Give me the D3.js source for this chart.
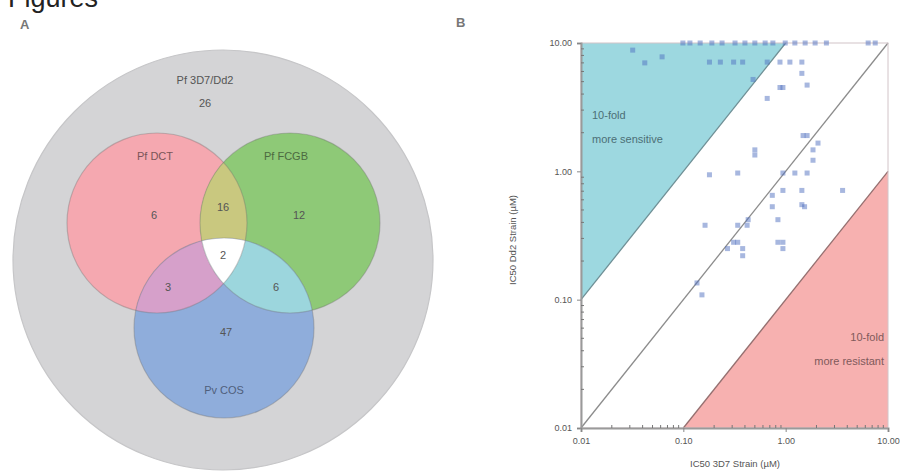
<!DOCTYPE html>
<html>
<head>
<meta charset="utf-8">
<script src="https://cdn.jsdelivr.net/npm/d3@7"></script>
<style>
  html, body { margin: 0; padding: 0; background: #fff; }
  svg { display: block; font-family: "Liberation Sans", Arial, sans-serif; }
</style>
</head>
<body>
<svg id="fig" width="905" height="474"></svg>
<script>
// ---- Panel A: set overlap counts ----
const outerSetName = ["Pf 3D7/Dd2", "26"];
const setNames = ["Pf DCT", "Pf FCGB", "Pv COS"];          // red, green, blue
const regionKeys = ["r", "g", "b", "rg", "rb", "gb", "rgb"];
const regionCounts = [6, 12, 47, 16, 3, 6, 2];

// ---- Panel B: compound potency in two strains ----
const ic50X = [0.032, 0.062, 0.042,
  0.099, 0.116, 0.146, 0.19, 0.239, 0.32, 0.40, 0.50, 0.63, 0.75, 0.99, 1.23, 1.55, 1.94, 2.5, 6.4, 7.5,
  0.18, 0.23, 0.31, 0.38, 0.66, 0.88, 1.1, 1.44,
  0.48, 1.44, 0.88, 0.94, 0.66, 1.62,
  1.48, 1.62, 2.07, 1.85, 1.85, 0.50, 0.50,
  0.18, 0.34, 0.94, 1.23, 1.62, 0.94, 1.44, 3.6,
  0.74, 0.74, 1.44, 1.53,
  0.163, 0.34, 0.42, 0.84, 0.43,
  0.31, 0.34, 0.84, 0.94, 0.27, 0.38, 0.38, 0.94,
  0.136, 0.152];
const ic50Y = [8.8, 7.8, 7.0,
  10, 10, 10, 10, 10, 10, 10, 10, 10, 10, 10, 10, 10, 10, 10, 10, 10,
  7.1, 7.1, 7.1, 7.1, 7.1, 7.1, 7.1, 7.1,
  5.2, 5.8, 4.5, 4.5, 3.7, 4.7,
  1.9, 1.9, 1.66, 1.47, 1.22, 1.47, 1.34,
  0.94, 0.97, 0.97, 0.97, 0.97, 0.71, 0.71, 0.71,
  0.65, 0.53, 0.55, 0.53,
  0.38, 0.38, 0.38, 0.42, 0.42,
  0.28, 0.28, 0.28, 0.28, 0.25, 0.25, 0.22, 0.25,
  0.135, 0.109];
const axisTicks = [0.01, 0.1, 1, 10];
const tickLabels = ["0.01", "0.10", "1.00", "10.00"];
const zoneLabels = [["10-fold", "more sensitive"], ["10-fold", "more resistant"]];
const xTitle = "IC50 3D7 Strain (µM)";
const yTitle = "IC50 Dd2 Strain (µM)";

const svg = d3.select("#fig");

// page heading, partly above the top edge
svg.append("text").attr("x", 8).attr("y", 7)
  .attr("font-size", 27).attr("fill", "#222").text("Figures");

// panel letters
svg.append("text").attr("x", 20).attr("y", 29).attr("font-size", 13)
  .attr("font-weight", "bold").attr("fill", "#777").text("A");
svg.append("text").attr("x", 456).attr("y", 27).attr("font-size", 13)
  .attr("font-weight", "bold").attr("fill", "#777").text("B");

// ================= Panel A: Venn diagram =================
const venn = svg.append("g");
const outer = { cx: 223, cy: 260, r: 210 };
const circles = [
  { cx: 157, cy: 223, r: 90, fill: "#f5a8b0" },
  { cx: 290, cy: 223, r: 90, fill: "#8ec977" },
  { cx: 224, cy: 328, r: 90, fill: "#8faddb" }
];
const pairFill = { rg: "#c9c87f", rb: "#d6a0ca", gb: "#9cd6dd" };

venn.append("circle").attr("cx", outer.cx).attr("cy", outer.cy).attr("r", outer.r)
  .attr("fill", "#d4d4d6").attr("stroke", "#c6c6c8").attr("stroke-width", 1.2);

const defs = svg.append("defs");
circles.forEach((c, i) => {
  defs.append("clipPath").attr("id", "clip" + i)
    .append("circle").attr("cx", c.cx).attr("cy", c.cy).attr("r", c.r);
});
// clip for the red∩green lens (used for the centre region)
defs.append("clipPath").attr("id", "clip01").attr("clip-path", "url(#clip0)")
  .append("circle").attr("cx", circles[1].cx).attr("cy", circles[1].cy).attr("r", circles[1].r);

circles.forEach(c => {
  venn.append("circle").attr("cx", c.cx).attr("cy", c.cy).attr("r", c.r).attr("fill", c.fill);
});
const pairs = [["rg", 0, 1], ["rb", 0, 2], ["gb", 1, 2]];
pairs.forEach(([k, a, b]) => {
  venn.append("g").attr("clip-path", `url(#clip${a})`)
    .append("circle").attr("cx", circles[b].cx).attr("cy", circles[b].cy).attr("r", circles[b].r)
    .attr("fill", pairFill[k]);
});
venn.append("g").attr("clip-path", "url(#clip01)")
  .append("circle").attr("cx", circles[2].cx).attr("cy", circles[2].cy).attr("r", circles[2].r)
  .attr("fill", "#ffffff");
circles.forEach(c => {
  venn.append("circle").attr("cx", c.cx).attr("cy", c.cy).attr("r", c.r)
    .attr("fill", "none").attr("stroke", "rgba(110,110,110,0.35)").attr("stroke-width", 1.2);
});

// set titles
venn.selectAll("text.outer").data(outerSetName).join("text")
  .attr("x", 205).attr("y", (d, i) => 84 + i * 23)
  .attr("text-anchor", "middle").attr("font-size", 11).attr("fill", "#555").text(d => d);
const titlePos = [[155, 160], [286, 160], [224, 394]];
const titleColor = ["#7a5558", "#4c6a40", "#4f5f7c"];
venn.selectAll("text.set").data(setNames).join("text")
  .attr("x", (d, i) => titlePos[i][0]).attr("y", (d, i) => titlePos[i][1])
  .attr("text-anchor", "middle").attr("font-size", 11)
  .attr("fill", (d, i) => titleColor[i]).text(d => d);

// region counts
const regionPos = { r: [154, 219], g: [299, 219], b: [226, 336], rg: [223, 211], rb: [168, 291], gb: [276, 291], rgb: [223, 259] };
venn.selectAll("text.count").data(regionKeys).join("text")
  .attr("x", k => regionPos[k][0]).attr("y", k => regionPos[k][1])
  .attr("text-anchor", "middle").attr("font-size", 11).attr("fill", "#555")
  .text((k, i) => regionCounts[i]);

// ================= Panel B: scatter on log axes =================
const x = d3.scaleLog().domain([0.01, 10]).range([581, 888]);
const y = d3.scaleLog().domain([0.01, 10]).range([428, 43]);
const plot = svg.append("g");

// shaded fold-change zones
const cyanZone = [[0.01, 0.1], [0.01, 10], [1, 10]];
const redZone = [[0.1, 0.01], [10, 0.01], [10, 1]];
const line = d3.line().x(d => x(d[0])).y(d => y(d[1]));
plot.append("path").attr("d", line(cyanZone) + "Z").attr("fill", "#9dd8e0");
plot.append("path").attr("d", line(redZone) + "Z").attr("fill", "#f7b1b0");
plot.append("path").attr("d", line([[0.01, 0.1], [1, 10]]))
  .attr("stroke", "#6f8f95").attr("stroke-width", 1.3).attr("fill", "none");
plot.append("path").attr("d", line([[0.1, 0.01], [10, 1]]))
  .attr("stroke", "#957070").attr("stroke-width", 1.3).attr("fill", "none");
// identity line
plot.append("path").attr("d", line([[0.01, 0.01], [10, 10]]))
  .attr("stroke", "#8c8c8c").attr("stroke-width", 1.3).attr("fill", "none");

// frame
plot.append("rect").attr("x", x(0.01)).attr("y", y(10))
  .attr("width", x(10) - x(0.01)).attr("height", y(0.01) - y(10))
  .attr("fill", "none").attr("stroke", "#d2c4c8").attr("stroke-width", 1);

// compounds
const pts = ic50X.map((v, i) => [v, ic50Y[i]]);
plot.selectAll("rect.pt").data(pts).join("rect")
  .attr("x", d => x(d[0]) - 2.5).attr("y", d => y(d[1]) - 2.5)
  .attr("width", 5).attr("height", 5)
  .attr("fill", "#4f6fbf").attr("fill-opacity", 0.5);

// zone annotations
[[0, 592, 119, "start"], [1, 884, 341, "end"]].forEach(([i, tx, ty, anchor]) => {
  const t = plot.append("text").attr("x", tx).attr("y", ty).attr("text-anchor", anchor)
    .attr("font-size", 11).attr("fill", i === 0 ? "#4c6f76" : "#7f5a5b");
  zoneLabels[i].forEach((s, j) => t.append("tspan").attr("x", tx).attr("dy", j ? 24 : 0).text(s));
});

// axes with log minor ticks
const minor = [];
for (let e = -2; e < 1; e++) for (let m = 2; m <= 9; m++) minor.push(m * Math.pow(10, e));
const fmt = d => tickLabels[axisTicks.indexOf(d)];
const yAxis = plot.append("g").attr("transform", `translate(${x(0.01)},0)`)
  .call(d3.axisLeft(y).tickValues(axisTicks).tickFormat(fmt).tickSize(4).tickPadding(5));
const xAxis = plot.append("g").attr("transform", `translate(0,${y(0.01)})`)
  .call(d3.axisBottom(x).tickValues(axisTicks).tickFormat(fmt).tickSize(4).tickPadding(6));
[yAxis, xAxis].forEach(a => {
  a.select(".domain").attr("stroke", "#9a9a9a").attr("stroke-width", 2);
  a.selectAll(".tick line").attr("stroke", "#888");
  a.selectAll(".tick text").attr("fill", "#555").attr("font-size", 9)
    .attr("font-family", "'Liberation Sans', Arial, sans-serif");
});
yAxis.selectAll("line.minor").data(minor).join("line").attr("class", "minor")
  .attr("x1", 0).attr("x2", 3).attr("y1", d => y(d)).attr("y2", d => y(d)).attr("stroke", "#777");
xAxis.selectAll("line.minor").data(minor).join("line").attr("class", "minor")
  .attr("y1", 0).attr("y2", -3).attr("x1", d => x(d)).attr("x2", d => x(d)).attr("stroke", "#777");

plot.append("text").attr("x", 735).attr("y", 467).attr("text-anchor", "middle")
  .attr("font-size", 9.5).attr("fill", "#555").text(xTitle);
plot.append("text").attr("transform", "translate(516,240) rotate(-90)").attr("text-anchor", "middle")
  .attr("font-size", 9.5).attr("fill", "#555").text(yTitle);
</script>
</body>
</html>
